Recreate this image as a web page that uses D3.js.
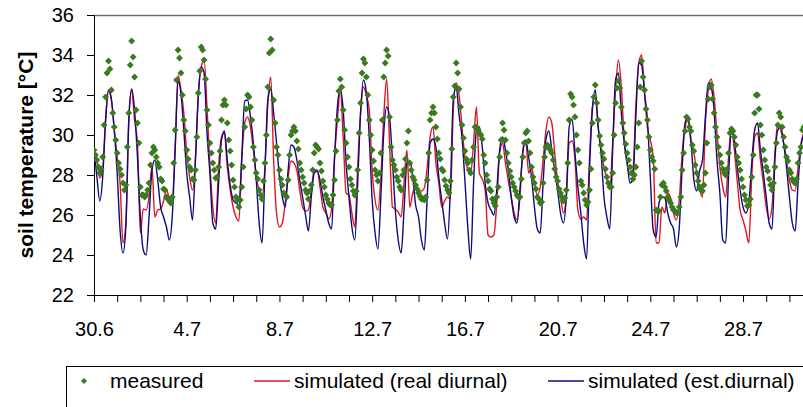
<!DOCTYPE html>
<html>
<head>
<meta charset="utf-8">
<script src="https://cdn.jsdelivr.net/npm/d3@7"></script>
<style>
  html, body { margin: 0; padding: 0; background: #fff; }
  svg { display: block; font-family: Arial, "Liberation Sans", sans-serif; }
</style>
</head>
<body>
<svg id="chart" width="803" height="407"></svg>
<script>
"use strict";

// Data, starting 30.6 00:00 (one row = one day)

// measured: one reading every 1.5 hours
var measuredStep = 1.5 / 24;
var measured = [
  29.25, 29.0, 28.75, 28.4, 28.1, 28.3, 28.9, 30.5, 31.9, 33.1, 33.7, 33.3, 32.25, 31.1, 30.4, 29.75,
  29.1, 28.6, 28.3, 28.0, 27.6, 27.25, 27.5, 29.4, 31.1, 33.5, 34.7, 33.9, 32.9, 31.25, 30.6, 29.6,
  27.4, 27.0, 27.0, 26.9, 27.0, 27.25, 27.6, 28.5, 29.1, 29.4, 29.25, 28.9, 28.6, 28.4, 27.8, 27.7,
  27.3, 27.25, 26.9, 26.8, 26.7, 26.6, 26.9, 28.6, 30.25, 32.75, 34.25, 33.85, 33.1, 32.0, 30.75, 30.2,
  29.25, 28.8, 28.4, 28.25, 27.8, 27.75, 28.25, 29.9, 32.1, 33.2, 34.4, 34.25, 33.75, 32.8, 31.25, 30.5,
  29.6, 29.1, 28.6, 28.25, 27.85, 27.9, 28.4, 29.2, 30.75, 31.5, 31.75, 31.5, 30.6, 29.75, 29.2, 28.5,
  27.75, 27.4, 26.9, 26.75, 26.4, 26.75, 27.4, 28.4, 30.4, 31.3, 32.0, 31.9, 31.4, 30.75, 29.4, 28.75,
  28.1, 27.8, 27.25, 27.0, 26.8, 27.7, 28.6, 30.0, 32.4, 34.1, 34.8, 34.25, 31.75, 30.6, 29.4, 29.0,
  28.25, 27.8, 27.5, 27.1, 27.0, 26.9, 27.75, 29.0, 30.0, 30.2, 30.4, 30.2, 29.7, 29.3, 28.6, 28.25,
  27.9, 27.6, 27.25, 27.1, 26.8, 27.2, 27.5, 28.25, 29.1, 29.5, 29.4, 29.3, 28.6, 28.2, 27.7, 27.4,
  27.0, 26.8, 26.6, 26.5, 26.5, 27.0, 27.75, 29.2, 30.75, 32.2, 32.8, 32.4, 31.25, 30.25, 29.6, 28.9,
  28.4, 27.8, 27.5, 27.2, 27.0, 27.2, 28.25, 30.1, 31.6, 33.1, 33.8, 33.6, 32.9, 32.0, 30.75, 30.0,
  29.25, 28.7, 28.25, 28.0, 27.7, 28.1, 29.1, 30.75, 32.9, 33.6, 34.25, 33.95, 30.9, 29.4, 28.75, 28.5,
  28.25, 27.9, 27.7, 27.4, 27.25, 28.0, 28.25, 28.8, 29.6, 30.2, 28.6, 28.25, 27.9, 27.75, 27.5, 27.3,
  27.1, 26.95, 26.8, 26.8, 26.75, 26.9, 27.75, 29.1, 30.75, 31.1, 31.4, 31.1, 30.4, 29.8, 29.1, 28.8,
  28.3, 28.2, 27.75, 27.45, 27.25, 27.1, 27.7, 29.3, 31.9, 32.45, 33.6, 33.1, 32.3, 31.4, 30.5, 29.85,
  29.2, 28.8, 28.6, 28.25, 28.1, 28.75, 29.4, 30.4, 30.4, 30.25, 30.1, 30.0, 29.8, 29.0, 28.6, 28.0,
  27.7, 27.3, 27.2, 26.8, 26.6, 26.45, 26.9, 27.4, 28.9, 29.75, 30.6, 30.25, 29.75, 29.1, 28.6, 28.2,
  27.9, 27.6, 27.4, 27.2, 27.0, 26.9, 26.9, 27.8, 28.9, 29.6, 30.1, 30.2, 29.7, 29.1, 28.4, 27.9,
  27.6, 27.3, 26.9, 26.8, 26.6, 26.65, 27.6, 28.9, 29.4, 29.5, 29.4, 29.25, 29.1, 28.75, 28.3, 27.9,
  27.7, 27.3, 27.1, 26.9, 26.7, 26.85, 27.25, 28.6, 30.75, 32.05, 31.9, 31.5, 30.9, 30.0, 29.25, 28.6,
  27.7, 27.5, 27.1, 26.75, 26.5, 26.65, 27.25, 28.3, 30.6, 31.9, 32.5, 31.6, 30.75, 29.95, 29.5, 29.1,
  28.8, 28.3, 27.9, 27.6, 27.4, 27.4, 28.1, 30.0, 31.6, 32.35, 32.7, 32.35, 31.4, 30.6, 30.1, 29.55,
  29.1, 28.75, 28.4, 28.1, 27.8, 28.0, 28.4, 29.4, 30.6, 32.4, 33.7, 32.9, 32.25, 31.3, 30.75, 29.9,
  29.25, 28.9, 28.7, 28.3, 26.25, 26.2, 26.2, 26.9, 27.5, 27.6, 27.4, 27.2, 26.9, 26.75, 26.6, 26.4,
  26.25, 26.2, 26.1, 26.1, 26.4, 26.9, 28.25, 29.1, 30.2, 30.9, 30.8, 30.4, 30.2, 29.5, 29.2, 28.5,
  28.1, 27.7, 27.4, 27.25, 27.2, 27.5, 28.1, 29.6, 31.8, 32.4, 32.5, 31.8, 31.1, 30.4, 29.9, 29.4,
  29.0, 28.6, 28.3, 28.1, 28.0, 28.3, 29.1, 30.1, 30.3, 30.2, 29.9, 29.5, 28.9, 28.6, 28.25, 27.8,
  27.4, 27.0, 26.75, 26.45, 26.5, 26.8, 27.9, 29.0, 31.1, 32.0, 32.0, 31.3, 30.5, 30.0, 29.25, 28.75,
  28.4, 28.2, 27.8, 27.5, 27.25, 27.6, 28.4, 29.6, 30.5, 31.1, 30.9, 30.4, 29.9, 29.4, 28.9, 28.7,
  28.25, 28.1, 27.8, 27.65, 27.6, 27.8, 28.6, 29.1, 29.4, 30.25, 30.4, 30.5, 30.6
];

// simulated series: one value every 3 hours
var simStep = 3 / 24;
var realDiurnal = [
  29.3, 28.75, 27.85, 28.25, 30.75, 32.2, 31.75, 30.25,
  28.9, 27.6, 24.6, 25.6, 30.6, 32.25, 30.75, 29.6,
  25.1, 26.3, 26.25, 26.9, 28.4, 25.9, 26.25, 26.3,
  26.7, 27.25, 26.9, 26.9, 29.25, 33.0, 32.25, 31.1,
  29.1, 27.9, 27.25, 28.75, 32.1, 33.4, 33.75, 31.4,
  28.5, 26.4, 25.6, 28.4, 29.9, 30.1, 28.4, 27.25,
  26.4, 25.9, 25.7, 28.75, 30.6, 30.9, 30.4, 29.25,
  27.9, 27.25, 26.9, 28.4, 31.6, 32.9, 28.75, 26.1,
  25.4, 25.6, 26.6, 27.9, 28.7, 28.6, 28.25, 27.25,
  26.4, 26.2, 26.25, 27.25, 28.25, 28.25, 27.4, 26.4,
  26.1, 25.8, 26.3, 28.9, 30.75, 32.25, 29.9, 27.1,
  27.0, 26.1, 25.4, 28.4, 31.1, 32.4, 32.0, 31.25,
  28.25, 26.75, 26.25, 27.9, 30.9, 32.8, 29.6, 26.4,
  26.3, 26.15, 25.9, 27.6, 29.25, 26.4, 27.1, 27.35,
  27.25, 27.2, 27.35, 28.4, 29.9, 30.4, 28.6, 27.6,
  26.4, 26.7, 26.9, 26.8, 31.3, 32.6, 32.0, 30.4,
  28.9, 28.3, 28.1, 29.6, 31.4, 28.1, 27.8, 27.25,
  25.0, 24.9, 25.0, 26.6, 29.1, 29.6, 28.6, 27.7,
  26.9, 26.1, 25.75, 26.9, 29.25, 29.7, 28.1, 28.4,
  27.6, 27.0, 27.4, 28.75, 30.25, 30.9, 30.6, 29.1,
  27.7, 26.9, 26.1, 26.9, 29.6, 29.7, 28.75, 26.25,
  25.8, 25.9, 25.75, 28.75, 31.4, 31.9, 30.4, 29.25,
  28.4, 27.8, 27.3, 29.6, 32.25, 33.75, 32.4, 29.75,
  28.6, 28.0, 28.25, 31.4, 33.6, 34.0, 32.1, 30.4,
  29.75, 28.9, 24.6, 24.6, 26.4, 26.1, 27.1, 26.85,
  26.1, 25.75, 26.75, 29.1, 30.4, 30.75, 29.7, 29.2,
  28.1, 27.3, 26.9, 30.6, 32.25, 32.8, 31.9, 30.1,
  28.4, 27.4, 26.9, 28.9, 30.4, 29.25, 27.7, 26.25,
  25.75, 25.2, 24.6, 27.9, 29.9, 30.1, 28.75, 27.6,
  26.4, 25.8, 26.4, 29.1, 30.6, 30.25, 29.6, 28.75,
  27.75, 27.25, 27.2, 28.4, 29.6, 30.1, 30.4
];

var estDiurnal = [
  29.25, 27.9, 26.7, 27.9, 30.75, 32.25, 31.8, 30.25,
  28.1, 25.25, 24.1, 25.4, 30.75, 32.3, 31.25, 28.9,
  25.9, 24.25, 24.0, 25.9, 28.25, 28.75, 27.75, 26.4,
  25.9, 25.4, 24.75, 25.9, 29.25, 32.7, 32.1, 30.25,
  28.1, 26.9, 25.75, 28.75, 31.9, 33.4, 33.1, 30.1,
  28.1, 25.6, 25.3, 27.6, 29.75, 30.2, 28.75, 27.5,
  26.75, 26.6, 26.5, 28.9, 31.7, 31.75, 30.9, 29.6,
  27.75, 25.6, 24.6, 28.25, 31.75, 32.3, 31.1, 29.6,
  27.9, 26.9, 26.4, 28.25, 29.5, 29.4, 28.75, 27.75,
  26.9, 26.0, 25.2, 26.9, 28.1, 28.2, 27.75, 26.9,
  26.25, 25.6, 25.3, 28.75, 31.4, 32.3, 31.25, 28.6,
  26.9, 25.4, 24.75, 27.6, 31.1, 32.75, 32.1, 29.9,
  26.75, 25.1, 24.3, 26.9, 30.1, 31.4, 30.9, 28.75,
  26.25, 24.75, 24.1, 26.25, 28.6, 28.7, 27.9, 26.5,
  25.9, 24.75, 24.25, 26.9, 29.6, 29.8, 29.4, 27.9,
  26.75, 25.6, 24.8, 27.3, 31.75, 32.4, 31.0, 29.9,
  27.75, 25.4, 23.8, 27.6, 30.25, 30.4, 29.4, 27.6,
  26.6, 26.25, 26.0, 27.25, 29.25, 29.9, 29.25, 28.25,
  26.9, 25.9, 25.6, 27.25, 29.1, 29.75, 28.9, 27.9,
  26.4, 25.3, 25.1, 27.6, 29.8, 30.2, 29.25, 28.25,
  27.25, 26.1, 25.6, 26.9, 30.4, 30.8, 29.1, 27.4,
  26.1, 24.6, 23.8, 28.25, 31.25, 32.25, 30.4, 29.1,
  26.9, 25.9, 25.3, 29.25, 32.75, 33.1, 31.1, 29.6,
  28.6, 27.6, 27.8, 30.9, 33.6, 33.5, 32.1, 30.75,
  27.9, 25.25, 24.9, 26.6, 26.9, 26.85, 26.1, 25.6,
  25.3, 24.4, 25.4, 28.4, 30.6, 30.9, 29.75, 27.8,
  27.2, 28.2, 28.75, 30.9, 32.6, 32.4, 31.25, 28.75,
  27.1, 24.75, 24.6, 27.9, 30.4, 29.75, 28.4, 27.25,
  26.4, 26.1, 26.6, 28.6, 30.25, 30.6, 29.25, 28.1,
  26.9, 25.6, 25.3, 28.75, 30.25, 30.4, 29.6, 28.4,
  26.9, 25.6, 25.2, 27.6, 29.4, 30.1, 30.5
];

// Axis ticks
var dayTicks = d3.range(0, 31);
var labelDays = [0, 4, 8, 12, 16, 20, 24, 28];
var labelDates = ["30.6", "4.7", "8.7", "12.7", "16.7", "20.7", "24.7", "28.7"];
var tempTicks = [22, 24, 26, 28, 30, 32, 34, 36];

var seriesNames = ["measured", "simulated (real diurnal)", "simulated (est.diurnal)"];

var app = {

  // Chart /////////////////////////////////////////////////
  chart: function() {
  //////////////////////////////////////////////////////////

    var svg = d3.select("#chart"),
        green = "#3b7a1f",
        red = "#e3161d",
        navy = "#0b0b7e",
        font = "Arial, 'Liberation Sans', sans-serif";

    var x = d3.scaleLinear().domain([0, 31]).range([94, 94 + 31 * 23.18]),
        y = d3.scaleLinear().domain([22, 36]).range([295, 15]);

    svg.append("clipPath").attr("id", "plot-clip")
      .append("rect")
        .attr("x", 94).attr("y", 10)
        .attr("width", 760).attr("height", 290);

    // Top border of plot area
    svg.append("line")
        .attr("x1", 94).attr("x2", 803)
        .attr("y1", 15.5).attr("y2", 15.5)
        .attr("stroke", "#6e6e6e")
        .attr("stroke-width", 1.5);

    // Y axis
    svg.append("g")
        .attr("transform", "translate(94,0)")
        .call(d3.axisLeft(y).tickValues(tempTicks).tickSize(7).tickPadding(13))
      .selectAll("text")
        .attr("font-size", "20px")
        .attr("font-family", font)
        .attr("fill", "#000");

    // X axis: a tick for each day, a label every 4 days
    svg.append("g")
        .attr("transform", "translate(0,295)")
        .call(d3.axisBottom(x).tickValues(dayTicks).tickSize(7).tickSizeOuter(0).tickFormat(""));

    var xLabels = svg.append("g")
        .attr("transform", "translate(0,295)")
        .call(d3.axisBottom(x).tickValues(labelDays).tickSize(0)
          .tickPadding(27)
          .tickFormat(function(d, i) { return labelDates[i]; }));

    xLabels.select(".domain").remove();
    xLabels.selectAll("text")
        .attr("font-size", "20px")
        .attr("font-family", font)
        .attr("fill", "#000");

    svg.selectAll(".domain, .tick line").attr("stroke", "#000");

    // Axis title
    svg.append("text")
        .attr("transform", "translate(33,155) rotate(-90)")
        .attr("text-anchor", "middle")
        .attr("font-size", "21px")
        .attr("font-weight", "bold")
        .text("soil temperature [°C]");

    // Lines
    var plot = svg.append("g").attr("clip-path", "url(#plot-clip)");

    var line = d3.line()
        .x(function(d, i) { return x(i * simStep); })
        .y(function(d) { return y(d); })
        .curve(d3.curveMonotoneX);

    plot.append("path")
        .datum(realDiurnal)
        .attr("fill", "none")
        .attr("stroke", red)
        .attr("stroke-width", 1.4)
        .attr("d", line);

    plot.append("path")
        .datum(estDiurnal)
        .attr("fill", "none")
        .attr("stroke", navy)
        .attr("stroke-width", 1.4)
        .attr("d", line);

    // Measured markers
    var diamond = d3.symbol().type(d3.symbolDiamond2).size(30);

    plot.selectAll(".pt")
        .data(measured)
      .enter().append("path")
        .attr("class", "pt")
        .attr("transform", function(d, i) {
          return "translate(" + x(i * measuredStep) + "," + y(d) + ")";
        })
        .attr("d", diamond)
        .attr("fill", green);

    // Legend
    var legend = svg.append("g");

    legend.append("rect")
        .attr("x", 66.5).attr("y", 366.5)
        .attr("width", 760).attr("height", 60)
        .attr("fill", "none")
        .attr("stroke", "#000");

    legend.append("path")
        .attr("transform", "translate(84,381)")
        .attr("d", d3.symbol().type(d3.symbolDiamond2).size(24))
        .attr("fill", green);

    legend.append("line")
        .attr("x1", 254).attr("x2", 290).attr("y1", 381).attr("y2", 381)
        .attr("stroke", red).attr("stroke-width", 1.5);

    legend.append("line")
        .attr("x1", 548).attr("x2", 584).attr("y1", 381).attr("y2", 381)
        .attr("stroke", navy).attr("stroke-width", 1.5);

    legend.selectAll("text")
        .data(seriesNames)
      .enter().append("text")
        .attr("x", function(d, i) { return [110, 294, 588][i]; })
        .attr("y", 388)
        .attr("font-size", "21px")
        .text(function(d) { return d; });

  },

  runApp: function() {
    app.chart();
  }

};

app.runApp();
</script>
</body>
</html>
